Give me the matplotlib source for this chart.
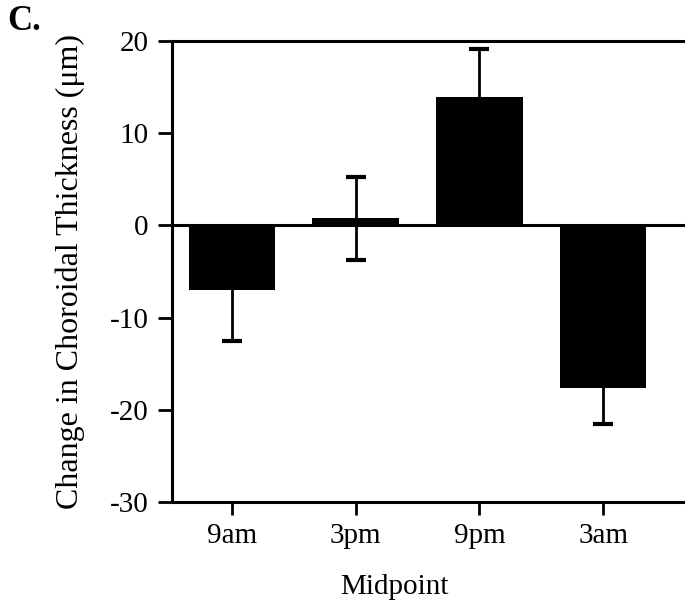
import matplotlib
matplotlib.use("Agg")
import matplotlib.pyplot as plt

categories = ["9am", "3pm", "9pm", "3am"]
values = [-7.0, 0.8, 13.9, -17.6]
errors = [5.5, 4.5, 5.2, 3.9]
yticks = [-30, -20, -10, 0, 10, 20]

plt.rcParams['font.family'] = ['Liberation Serif', 'DejaVu Serif']

W, H = 685, 607
fig = plt.figure(figsize=(W / 100, H / 100), dpi=100)
left, right, bottom, top = 172, 685, 502, 41
ax = fig.add_axes([left / W, (H - bottom) / H, (right - left) / W, (bottom - top) / H])

x = list(range(len(categories)))
ax.bar(x, values, width=0.7, color='black', zorder=2)
ax.errorbar(x, values, yerr=errors, fmt='none', ecolor='black', elinewidth=2,
            capsize=7.5, capthick=3, zorder=3)
ax.axhline(0, color='black', lw=2.2, zorder=1)

spacing = 123.7
ax.set_xlim(-(232 - left) / spacing, (right - 232) / spacing)
ax.set_ylim(-30, 20)
ax.set_xticks(x)
ax.set_xticklabels(categories, fontsize=21)
ax.set_yticks(yticks)
ax.set_yticklabels([str(t) for t in yticks], fontsize=21)
ax.tick_params(axis='x', direction='out', length=9, width=2, pad=6)
ax.tick_params(axis='y', direction='out', length=10, width=2, pad=7)

for s in ['left', 'bottom', 'top']:
    ax.spines[s].set_linewidth(2.2)
ax.spines['right'].set_visible(False)

ax.set_xlabel("Midpoint", fontsize=21)
ax.xaxis.set_label_coords((394 - left) / (right - left), (bottom - 587) / (bottom - top))
ax.xaxis.label.set_va('center')
ax.set_ylabel("Change in Choroidal Thickness (\u03bcm)", fontsize=23, labelpad=18)

fig.text(7 / W, 1 - 22 / H, "C.", fontsize=25, fontweight='bold', va='center', ha='left')

fig.savefig("out.png", dpi=100)
